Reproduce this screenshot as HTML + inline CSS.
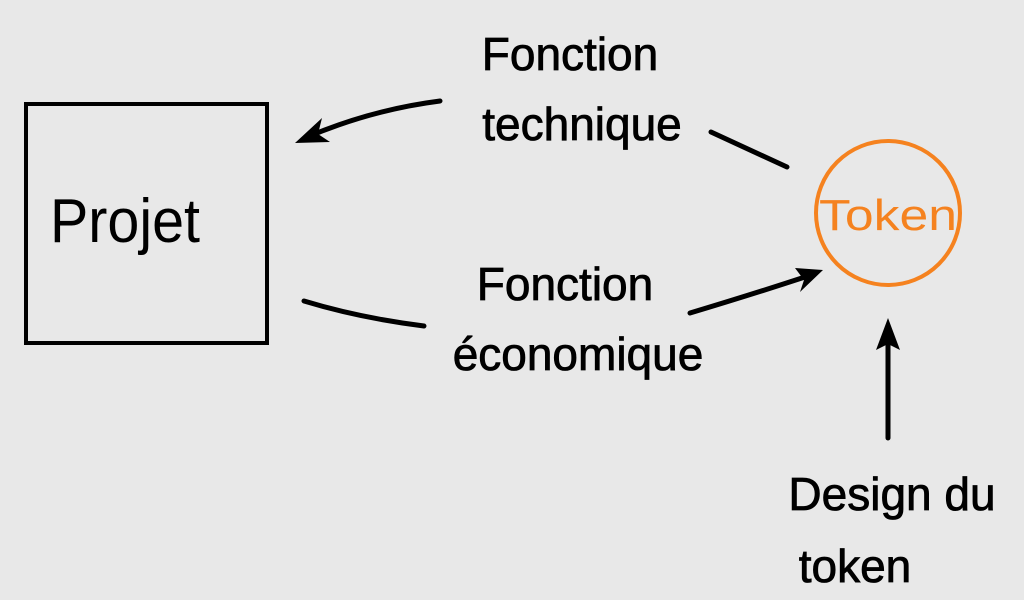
<!DOCTYPE html>
<html><head><meta charset="utf-8"><style>
html,body{margin:0;padding:0;background:#e8e8e8;}
svg{display:block}
text{font-family:"Liberation Sans",sans-serif;}
</style></head><body>
<svg width="1024" height="600" viewBox="0 0 1024 600">
<rect width="1024" height="600" fill="#e8e8e8"/>
<rect x="26" y="104" width="241" height="239" fill="none" stroke="#000" stroke-width="4"/>
<text x="50" y="242" font-size="62" fill="#000" textLength="150" lengthAdjust="spacingAndGlyphs">Projet</text>
<circle cx="888" cy="213" r="72" fill="none" stroke="#f5821f" stroke-width="4"/>
<text x="819" y="230" font-size="44" fill="#f5821f" textLength="138" lengthAdjust="spacingAndGlyphs">Token</text>
<g fill="none" stroke="#000" stroke-width="5" stroke-linecap="round">
<path d="M440 101 Q370 110 305 138"/>
<path d="M711 132 L787 167"/>
<path d="M304 301 Q360 318 424 326"/>
<path d="M690 313 Q750 295 805 277"/>
<path d="M888 438 L888 340"/>
</g>
<g fill="#000">
<path d="M295 143 L322 118 L318 134 L330 142 Z"/>
<path d="M823 270 L795 268 L804 280 L800 292 Z"/>
<path d="M888 318 L876 350 L888 344 L900 350 Z"/>
</g>
<g font-size="46" fill="#000" text-anchor="middle" stroke="#000" stroke-width="0.8">
<text x="570" y="70">Fonction</text>
<text x="582" y="140">technique</text>
<text x="565" y="300">Fonction</text>
<text x="578" y="370">économique</text>
<text x="892" y="510">Design du</text>
<text x="855" y="582">token</text>
</g>
</svg>
</body></html>
